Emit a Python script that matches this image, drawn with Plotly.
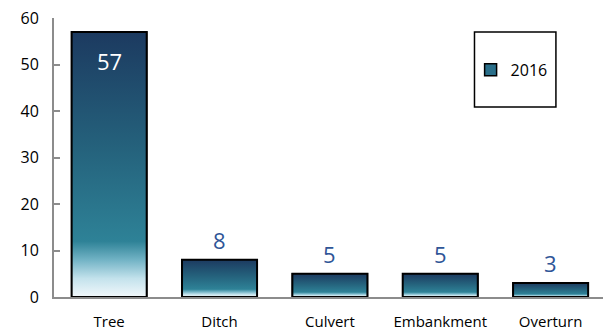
import plotly.graph_objects as go

categories = ['Tree', 'Ditch', 'Culvert', 'Embankment', 'Overturn']
values_2016 = [57, 8, 5, 5, 3]
series_name = '2016'
y_ticks = [0, 10, 20, 30, 40, 50, 60]

bar_w = 0.68
grad = [[0.0, '#f2f8fb'], [0.07, '#c3e2ec'], [0.14, '#72b3c5'],
        [0.21, '#2e8297'], [0.55, '#25637d'], [1.0, '#1c3a60']]

fig = go.Figure()

# legend swatch + baseline bars (the gradient fill is drawn on top)
fig.add_trace(go.Bar(
    x=list(range(len(categories))), y=values_2016, width=bar_w,
    name=series_name, marker=dict(color='#2a6f8a', line=dict(color='black', width=1.5)),
    hoverinfo='skip'
))

# gradient filled bars, one per category
for i, v in enumerate(values_2016):
    x0, x1 = i - bar_w / 2, i + bar_w / 2
    fig.add_trace(go.Scatter(
        x=[x0, x1, x1, x0, x0], y=[0, 0, v, v, 0],
        mode='lines', fill='toself',
        fillgradient=dict(type='vertical', colorscale=grad, start=0, stop=v),
        line=dict(color='black', width=2),
        showlegend=False, hoverinfo='skip'
    ))

# value labels
for i, v in enumerate(values_2016):
    inside = v > 30
    fig.add_annotation(
        x=i, y=v, text=str(v), showarrow=False,
        yanchor='top' if inside else 'bottom',
        yshift=-12 if inside else 3,
        font=dict(size=22, color='white' if inside else '#2f5597', family='Open Sans')
    )

# legend frame
fig.add_shape(type='rect', xref='paper', yref='paper',
              x0=0.759, x1=0.906, y0=0.681, y1=0.950,
              line=dict(color='black', width=1.5), fillcolor='white', layer='below')

fig.update_xaxes(
    range=[-0.5, 4.52], tickvals=list(range(len(categories))), ticktext=categories,
    showline=True, linecolor='#8c8c8c', linewidth=2, showgrid=False, zeroline=False,
    ticks='', ticklabelstandoff=10, tickfont=dict(size=15, color='black', family='Open Sans')
)
fig.update_yaxes(
    range=[0, 60.01], tickvals=y_ticks, showline=True, linecolor='#8c8c8c', linewidth=2,
    showgrid=False, zeroline=False, ticks='inside', ticklen=6, tickwidth=2, tickcolor='#8c8c8c',
    ticklabelstandoff=10, ticklabeloverflow='allow',
    tickfont=dict(size=16, color='black', family='Open Sans')
)

# the page body adds an 8px offset, so margins are shifted to compensate
fig.update_layout(
    width=611, height=333,
    margin=dict(l=46, r=11, t=10, b=44, autoexpand=False),
    plot_bgcolor='white', paper_bgcolor='white',
    showlegend=True,
    legend=dict(x=0.752, y=0.814, xanchor='left', yanchor='middle',
                bgcolor='rgba(0,0,0,0)', borderwidth=0,
                font=dict(size=16, color='black', family='Open Sans')),
    bargap=0.3
)

fig.write_html("out.html")
